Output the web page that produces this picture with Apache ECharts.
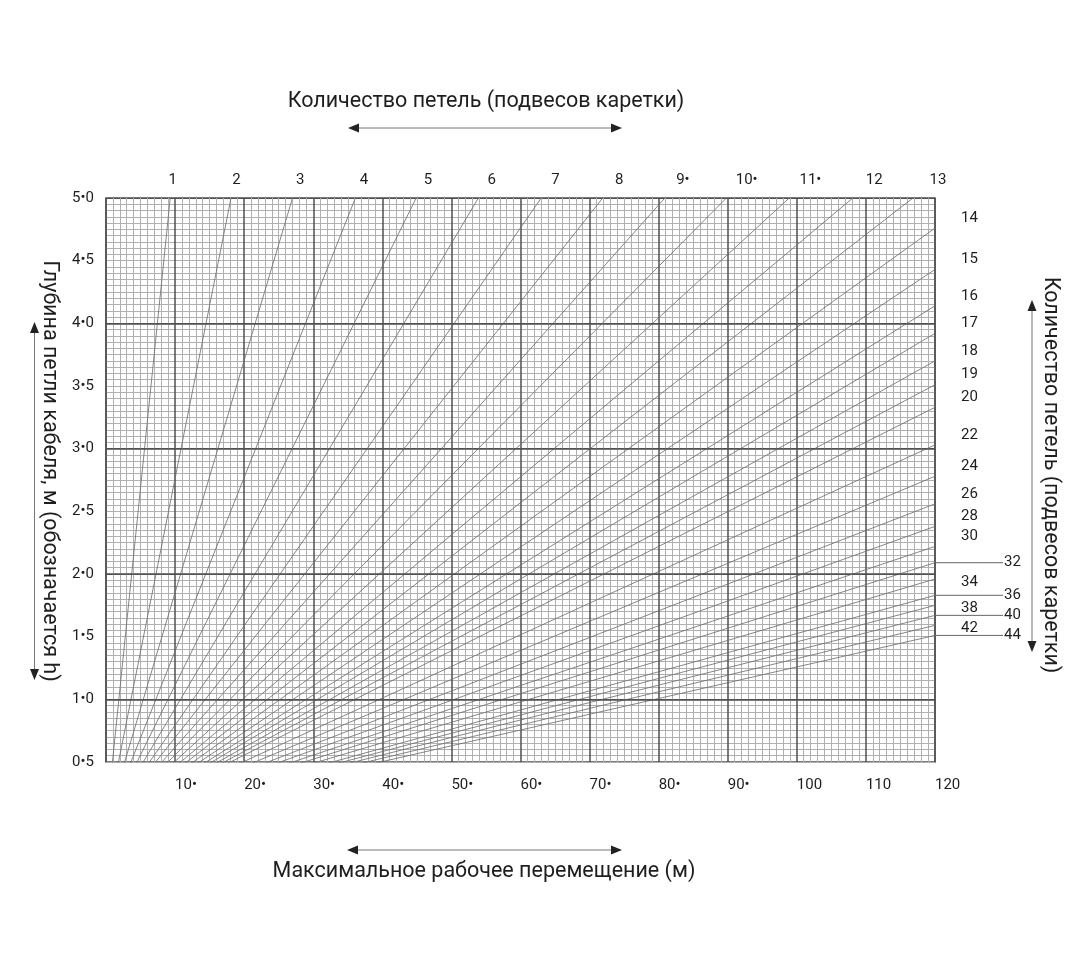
<!DOCTYPE html>
<html>
<head>
<meta charset="utf-8">
<script src="https://cdn.jsdelivr.net/npm/echarts@6/dist/echarts.min.js"></script>
<style>
html,body{margin:0;padding:0;background:#fff}
#c{width:1087px;height:980px}
</style>
</head>
<body>
<div id="c"></div>
<script>
// ---- data ----
const loopsTop = [1, 2, 3, 4, 5, 6, 7, 8, 9, 10, 11, 12, 13];
// travel (m) where each line meets the top edge h = 5.0
const topExitL = [9.3, 18.1, 27.0, 36.1, 44.9, 53.9, 63.0, 71.9, 80.9, 89.8, 98.9, 108.1, 116.8];
const loopsRight = [14, 15, 16, 17, 18, 19, 20, 22, 24, 26, 28, 30, 32, 34, 36, 38, 40, 42, 44];
// loop depth h (m) where each line meets the right edge L = 120
const rightExitH = [4.76, 4.43, 4.14, 3.92, 3.70, 3.51, 3.33, 3.03, 2.78, 2.56, 2.38, 2.22, 2.09, 1.96, 1.83, 1.75, 1.67, 1.59, 1.51];
const leaderLoops = [32, 36, 40, 44];
const fanOrigin = [0, 0];
const topH = 5.0;
const rightL = 120;
const xTickLabels = ['', '10•', '20•', '30•', '40•', '50•', '60•', '70•', '80•', '90•', '100', '110', '120'];
const yTickLabels = ['0•5', '1•0', '1•5', '2•0', '2•5', '3•0', '3•5', '4•0', '4•5', '5•0'];
const topTickLabels = ['', '1', '2', '3', '4', '5', '6', '7', '8', '9•', '10•', '11•', '12', '13'];
const yMajorLines = [1, 2, 3, 4];
const titleTop = 'Количество петель (подвесов каретки)';
const titleBottom = 'Максимальное рабочее перемещение (м)';
const titleLeft = 'Глубина петли кабеля, м (обозначается h)';
const titleRight = 'Количество петель (подвесов каретки)';

// ---- chart ----
const FONT = 'Roboto, "Liberation Sans", sans-serif';
const TXT = '#1e1e1e';
const MAJOR = '#4f4f4f';
const MINOR = '#b0b0b0';
const FAN = '#707070';

const chart = echarts.init(document.getElementById('c'), null, {renderer: 'canvas'});

function mkLine(n, data) {
  return {
    type: 'line', name: 'n=' + n, data: data,
    xAxisIndex: 0, yAxisIndex: 0,
    symbol: 'none', showSymbol: false, silent: true, animation: false, clip: true,
    lineStyle: {color: FAN, width: 0.85}, z: 2
  };
}
const series = [];
loopsTop.forEach((n, i) => series.push(mkLine(n, [fanOrigin.slice(), [topExitL[i], topH]])));
loopsRight.forEach((n, i) => series.push(mkLine(n, [fanOrigin.slice(), [rightL, rightExitH[i]]])));
series.push({
  type: 'line', data: [], xAxisIndex: 0, yAxisIndex: 0, silent: true, animation: false,
  markLine: {
    silent: true, animation: false, symbol: ['none', 'none'], label: {show: false},
    lineStyle: {color: MAJOR, width: 1.5, type: 'solid'},
    data: yMajorLines.map(v => ({yAxis: v}))
  }, z: 3
});
// leader lines continuing the marked loops beyond the right edge
loopsRight.forEach((n, i) => {
  if (!leaderLoops.includes(n)) return;
  series.push({
    type: 'line', name: 'leader ' + n, data: [[0, rightExitH[i]], [1, rightExitH[i]]],
    xAxisIndex: 2, yAxisIndex: 2, symbol: 'none', showSymbol: false, silent: true, animation: false,
    lineStyle: {color: '#666', width: 1}
  });
});

function rightLabel(v) {
  let idx = -1;
  rightExitH.forEach((h, i) => { if (Math.abs(h - v) < 1e-6) idx = i; });
  if (idx < 0) return '';
  const n = loopsRight[idx];
  if (leaderLoops.includes(n)) return '{l|' + n + '}';
  if (n <= 30) return '{s|' + n + '}';
  return '{m|' + n + '}';
}

function arrowH(x1, x2, y) {
  return [
    {type: 'line', shape: {x1: x1 + 8, y1: y, x2: x2 - 8, y2: y}, style: {stroke: '#777', lineWidth: 1}},
    {type: 'polygon', shape: {points: [[x1, y], [x1 + 11, y - 4.5], [x1 + 11, y + 4.5]]}, style: {fill: '#222'}},
    {type: 'polygon', shape: {points: [[x2, y], [x2 - 11, y - 4.5], [x2 - 11, y + 4.5]]}, style: {fill: '#222'}}
  ];
}
function arrowV(x, y1, y2) {
  return [
    {type: 'line', shape: {x1: x, y1: y1 + 8, x2: x, y2: y2 - 8}, style: {stroke: '#777', lineWidth: 1}},
    {type: 'polygon', shape: {points: [[x, y1], [x - 4.5, y1 + 11], [x + 4.5, y1 + 11]]}, style: {fill: '#222'}},
    {type: 'polygon', shape: {points: [[x, y2], [x - 4.5, y2 - 11], [x + 4.5, y2 - 11]]}, style: {fill: '#222'}}
  ];
}
const titleFont = {fontSize: 21.5, fontFamily: FONT, fill: TXT, align: 'center', verticalAlign: 'middle'};

const graphic = [
  {type: 'text', x: 486, y: 102, style: Object.assign({text: titleTop}, titleFont)},
  ...arrowH(348, 622, 128),
  {type: 'text', x: 484, y: 872, style: Object.assign({text: titleBottom}, titleFont)},
  ...arrowH(347, 622, 850),
  {type: 'text', x: 49, y: 471, rotation: -Math.PI / 2, style: Object.assign({text: titleLeft}, titleFont)},
  ...arrowV(34.5, 322, 680),
  {type: 'text', x: 1050, y: 475, rotation: -Math.PI / 2, style: Object.assign({text: titleRight}, titleFont)},
  ...arrowV(1032, 300, 652)
];

const labelBase = {fontSize: 15, fontFamily: FONT, color: TXT};

chart.setOption({
  animation: false,
  backgroundColor: '#fff',
  grid: [
    {left: 106, right: 152, top: 198, bottom: 218, show: true, borderColor: MAJOR, borderWidth: 1.5, backgroundColor: 'transparent'},
    {left: 935, right: 84, top: 198, bottom: 218, show: false}
  ],
  xAxis: [
    {
      type: 'value', gridIndex: 0, min: 0, max: 120, interval: 10, position: 'bottom',
      axisLine: {show: false}, axisTick: {show: false},
      axisLabel: Object.assign({formatter: v => xTickLabels[Math.round(v / 10)] || '', align: 'left', margin: 16, showMinLabel: false}, labelBase),
      splitLine: {show: true, lineStyle: {color: MAJOR, width: 1.5}},
      minorTick: {show: false, splitNumber: 10},
      minorSplitLine: {show: true, lineStyle: {color: MINOR, width: 1}}
    },
    {
      type: 'value', gridIndex: 0, min: 0, max: 13, interval: 1, position: 'top',
      axisLine: {show: false}, axisTick: {show: false}, splitLine: {show: false},
      axisLabel: Object.assign({formatter: v => topTickLabels[Math.round(v)] || '', margin: 10, showMaxLabel: true, padding: [0, 0, 0, 6]}, labelBase)
    },
    {type: 'value', gridIndex: 1, min: 0, max: 1, show: false}
  ],
  yAxis: [
    {
      type: 'value', gridIndex: 0, min: 0.5, max: 5, interval: 0.5, position: 'left',
      axisLine: {show: false}, axisTick: {show: false},
      axisLabel: Object.assign({formatter: v => yTickLabels[Math.round((v - 0.5) / 0.5)] || '', margin: 12}, labelBase),
      splitLine: {show: true, lineStyle: {color: [MINOR, MAJOR], width: 1}},
      minorTick: {show: false, splitNumber: 10},
      minorSplitLine: {show: true, lineStyle: {color: MINOR, width: 1}}
    },
    {
      type: 'value', gridIndex: 0, min: 0.5, max: 5, position: 'right',
      axisLine: {show: false}, splitLine: {show: false}, axisTick: {show: false},
      axisLabel: Object.assign({
        customValues: rightExitH, margin: 26, formatter: rightLabel, hideOverlap: false,
        rich: {
          s: {fontSize: 15, fontFamily: FONT, color: TXT, padding: [0, 0, 20, 0]},
          m: {fontSize: 15, fontFamily: FONT, color: TXT, padding: [6, 0, 0, 0]},
          l: {fontSize: 15, fontFamily: FONT, color: TXT, padding: [0, 0, 0, 43]}
        }
      }, labelBase)
    },
    {type: 'value', gridIndex: 1, min: 0.5, max: 5, show: false}
  ],
  graphic: graphic,
  series: series
});
</script>
</body>
</html>
